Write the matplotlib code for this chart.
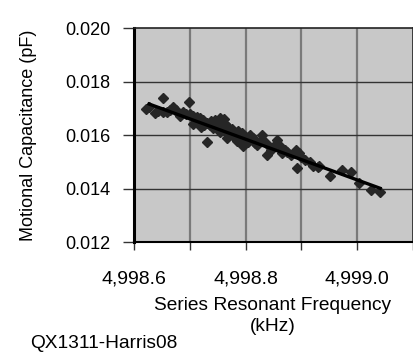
import matplotlib
matplotlib.use("Agg")
import matplotlib.pyplot as plt
from matplotlib.ticker import FuncFormatter

plt.rcParams['font.family'] = ['Liberation Sans', 'DejaVu Sans']

# measured points (kHz, pF)
freq_khz = [
    4998.621, 4998.627, 4998.638, 4998.643, 4998.652, 4998.652, 4998.659, 4998.664,
    4998.670, 4998.675, 4998.679, 4998.682, 4998.688, 4998.693, 4998.698, 4998.700,
    4998.705, 4998.705, 4998.709, 4998.713, 4998.714, 4998.718, 4998.720, 4998.723,
    4998.725, 4998.730, 4998.730, 4998.736, 4998.738, 4998.741, 4998.743, 4998.746,
    4998.750, 4998.754, 4998.754, 4998.757, 4998.761, 4998.763, 4998.763, 4998.766,
    4998.768, 4998.771, 4998.775, 4998.777, 4998.780, 4998.784, 4998.786, 4998.789,
    4998.793, 4998.795, 4998.798, 4998.802, 4998.804, 4998.807, 4998.813, 4998.816,
    4998.821, 4998.829, 4998.830, 4998.834, 4998.838, 4998.843, 4998.846, 4998.852,
    4998.857, 4998.861, 4998.866, 4998.871, 4998.875, 4998.882, 4998.891, 4998.893,
    4998.896, 4998.900, 4998.907, 4998.916, 4998.920, 4998.929, 4998.932, 4998.952,
    4998.973, 4998.989, 4999.004, 4999.025, 4999.041,
]
cap_pf = [
    0.01698, 0.01706, 0.01683, 0.01691, 0.01739, 0.01687, 0.01687, 0.01695,
    0.01706, 0.01695, 0.01683, 0.01672, 0.01687, 0.01680, 0.01724, 0.01680,
    0.01672, 0.01642, 0.01665, 0.01668, 0.01650, 0.01665, 0.01631, 0.01657,
    0.01639, 0.01575, 0.01646, 0.01639, 0.01654, 0.01627, 0.01642, 0.01657,
    0.01631, 0.01612, 0.01665, 0.01650, 0.01661, 0.01642, 0.01616, 0.01590,
    0.01631, 0.01612, 0.01624, 0.01597, 0.01605, 0.01579, 0.01616, 0.01597,
    0.01609, 0.01560, 0.01594, 0.01586, 0.01575, 0.01601, 0.01590, 0.01571,
    0.01564, 0.01601, 0.01583, 0.01575, 0.01526, 0.01556, 0.01545, 0.01564,
    0.01583, 0.01560, 0.01534, 0.01545, 0.01538, 0.01526, 0.01545, 0.01478,
    0.01534, 0.01519, 0.01508, 0.01500, 0.01485, 0.01481, 0.01485, 0.01448,
    0.01470, 0.01463, 0.01422, 0.01396, 0.01388,
]

# linear trend line ends
trend_x = [4998.627, 4999.041]
trend_y = [0.01717, 0.01402]

x_ticks = [4998.6, 4998.7, 4998.8, 4998.9, 4999.0, 4999.1]
x_labeled = [4998.6, 4998.8, 4999.0]
y_ticks = [0.012, 0.014, 0.016, 0.018, 0.020]

fig = plt.figure(figsize=(4.14, 3.52), dpi=100)
ax = fig.add_axes([134 / 414, 1 - 242.3 / 352, (413 - 134) / 414, (242.3 - 28.3) / 352])
ax.set_facecolor('#c8c8c8')

ax.set_xlim(4998.6, 4999.1)
ax.set_ylim(0.012, 0.020)

# gridlines: vertical grey, horizontal dark
for xv in x_ticks[1:-1]:
    ax.axvline(xv, color='#7a7a7a', lw=1.6, zorder=1)
for yv in y_ticks[1:-1]:
    ax.axhline(yv, color='#333333', lw=1.0, zorder=1)

ax.plot(freq_khz, cap_pf, linestyle='none', marker='D', markersize=5,
        color='#262626', zorder=3)
ax.plot(trend_x, trend_y, color='black', lw=2.4, zorder=4)

ax.set_xticks(x_ticks)
ax.xaxis.set_major_formatter(FuncFormatter(
    lambda v, p: '{:,.1f}'.format(v) if any(abs(v - t) < 1e-6 for t in x_labeled) else ''))
ax.set_yticks(y_ticks)
ax.yaxis.set_major_formatter(FuncFormatter(lambda v, p: '{:.3f}'.format(v)))

ax.tick_params(axis='y', direction='out', length=8, width=1, color='#333333',
               labelsize=13, pad=9)
ax.tick_params(axis='x', direction='out', length=6, width=1, color='#333333',
               labelsize=14, pad=14)

for side in ['top', 'right']:
    ax.spines[side].set_color('#222222')
    ax.spines[side].set_linewidth(1.2)
ax.spines['left'].set_color('black')
ax.spines['left'].set_linewidth(2.2)
ax.spines['bottom'].set_color('black')
ax.spines['bottom'].set_linewidth(1.5)

fig.text(29 / 414, 1 - 135 / 352, 'Motional Capacitance (pF)', rotation=90,
         ha='center', va='center', fontsize=13)
fig.text(273 / 414, 1 - 316 / 352, 'Series Resonant Frequency\n(kHz)',
         ha='center', va='center', fontsize=13.8, linespacing=1.3)
fig.text(30 / 414, 1 - 343 / 352, 'QX1311-Harris08', ha='left', va='center',
         fontsize=13.8)

fig.savefig('out.png', dpi=100)
